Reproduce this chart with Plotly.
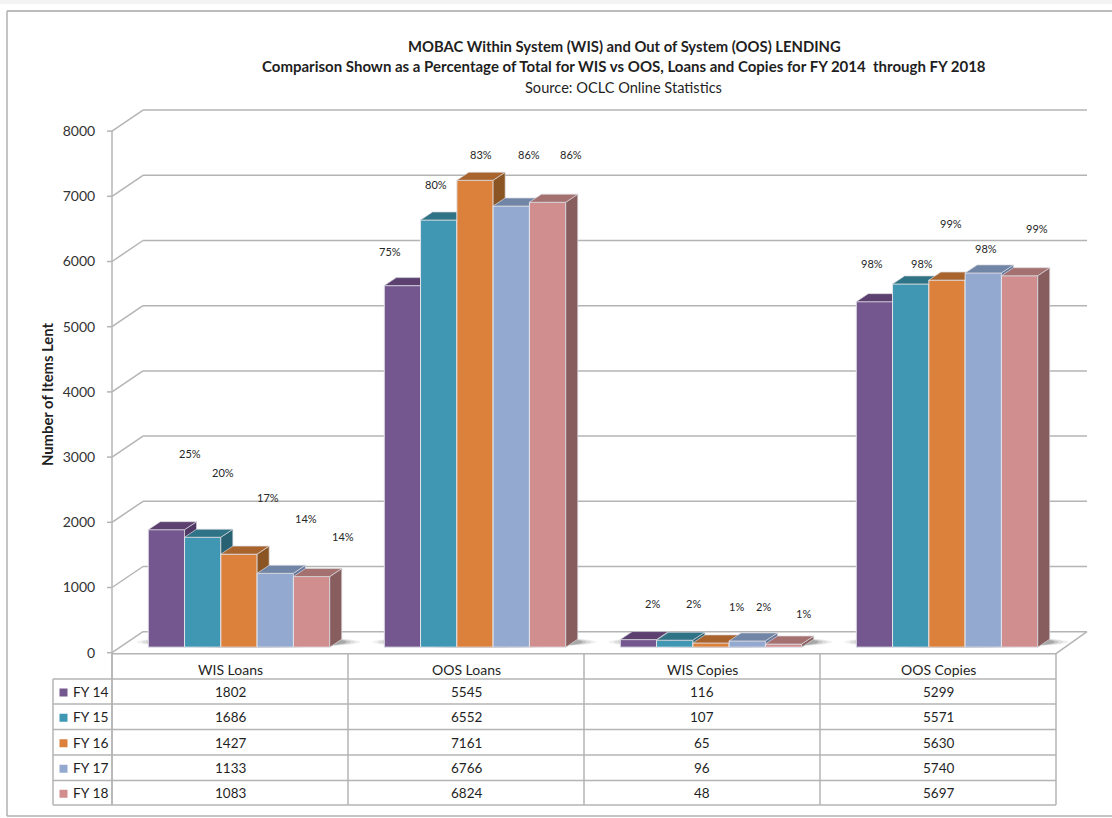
import plotly.graph_objects as go

# ---- data ----
categories = ["WIS Loans", "OOS Loans", "WIS Copies", "OOS Copies"]
series_names = ["FY 14", "FY 15", "FY 16", "FY 17", "FY 18"]
fy14 = [1802, 5545, 116, 5299]
fy15 = [1686, 6552, 107, 5571]
fy16 = [1427, 7161, 65, 5630]
fy17 = [1133, 6766, 96, 5740]
fy18 = [1083, 6824, 48, 5697]
series_values = [fy14, fy15, fy16, fy17, fy18]
pct14 = ["25%", "75%", "2%", "98%"]
pct15 = ["20%", "80%", "2%", "98%"]
pct16 = ["17%", "83%", "1%", "99%"]
pct17 = ["14%", "86%", "2%", "98%"]
pct18 = ["14%", "86%", "1%", "99%"]
series_pct = [pct14, pct15, pct16, pct17, pct18]
y_ticks = [0, 1000, 2000, 3000, 4000, 5000, 6000, 7000, 8000]

# ---- styles and placement ----
front = ["#75578F", "#3F97B3", "#DB813B", "#94A9CF", "#D08E8E"]
top_c = ["#5B4070", "#2F7386", "#A8642C", "#7185A6", "#A57070"]
side_c = ["#4F3863", "#276172", "#8A5522", "#64769A", "#875D5D"]
pct_px14 = [(190, 454), (390, 251), (652, 603), (872, 263)]
pct_px15 = [(223, 472), (436, 185), (693, 603), (922, 264)]
pct_px16 = [(268, 497), (481, 155), (736, 606), (951, 224)]
pct_px17 = [(306, 518), (529, 155), (764, 606), (986, 248)]
pct_px18 = [(343, 536), (571, 155), (803, 613), (1037, 228)]
pct_px = [pct_px14, pct_px15, pct_px16, pct_px17, pct_px18]

W, H = 1112, 818
FONT = "Lato"
TXT = "#1f1f1f"
GRID = "#b4b4b4"
Y0_PX = 652.7       # pixel row of value 0 on the front plane
PX_PER_UNIT = 0.0652
CAT_PX = 236.0
CAT0_PX = 229.5     # pixel column of the centre of the first category
BAR_PX = 36.3
DX_PX, DY_PX = 12.0, 8.0
BASE = 85           # the columns stand slightly behind the front edge of the floor
WALL_DX, WALL_DY = 31.0, 21.0

yrange = [-(H - Y0_PX) / PX_PER_UNIT, Y0_PX / PX_PER_UNIT]
xrange_ = [-CAT0_PX / CAT_PX, (W - CAT0_PX) / CAT_PX]
bw = BAR_PX / CAT_PX
dx = DX_PX / CAT_PX
dy = DY_PX / PX_PER_UNIT
group_shift = 9.5 / CAT_PX


def fx(p):
    return p / W


def fy(p):
    return 1 - p / H


def val_px(v):
    return Y0_PX - v * PX_PER_UNIT


fig = go.Figure()

for s, vals in enumerate(series_values):
    suffix = "" if s == 0 else str(s + 1)
    xa, ya = "x" + suffix, "y" + suffix
    centers = [c + group_shift + (s - 2) * bw for c in range(len(categories))]
    sx, sy, tx, ty = [], [], [], []
    for c, v in zip(centers, vals):
        xl, xr = c - bw / 2, c + bw / 2
        t = BASE + v
        sx += [xr, xr + dx, xr + dx, xr, xr, None]
        sy += [BASE, BASE + dy, t + dy, t, BASE, None]
        tx += [xl, xl + dx, xr + dx, xr, xl, None]
        ty += [t, t + dy, t + dy, t, t, None]
    fig.add_trace(go.Bar(x=centers, y=vals, base=BASE, width=bw, name=series_names[s],
                         marker=dict(color=front[s], line=dict(color="#E4E4EA", width=1)),
                         xaxis=xa, yaxis=ya, showlegend=False))
    for px_, py_, col in ((sx, sy, side_c[s]), (tx, ty, top_c[s])):
        fig.add_trace(go.Scatter(x=px_, y=py_, mode="lines", fill="toself", fillcolor=col,
                                 line=dict(color="#D8D8DE", width=0.7), hoverinfo="skip",
                                 xaxis=xa, yaxis=ya, showlegend=False))

shapes = []


def line(x0, y0, x1, y1, color=GRID, width=1.5):
    shapes.append(dict(type="line", xref="paper", yref="paper", x0=fx(x0), y0=fy(y0),
                       x1=fx(x1), y1=fy(y1), line=dict(color=color, width=width), layer="below"))


# outer frame
shapes.append(dict(type="rect", xref="paper", yref="paper", x0=0, x1=1, y0=fy(4), y1=1,
                   fillcolor="#F3F3F3", line=dict(width=0), layer="below"))
line(7, 11, W, 11, "#A6A6A6", 1.5)
line(7, 11, 7, 816, "#B0B0B0", 1.5)
line(7, 816, W, 816, "#B0B0B0", 1.5)

# walls, side wall and floor
LEFT, RIGHT = 112.0, 1056.0
for v in y_ticks:
    yp = val_px(v)
    line(LEFT - 5, yp, LEFT, yp)
    line(LEFT, yp, LEFT + WALL_DX, yp - WALL_DY)
    line(LEFT + WALL_DX, yp - WALL_DY, RIGHT + WALL_DX, yp - WALL_DY)
line(LEFT, val_px(8000), LEFT, 805)
line(LEFT, Y0_PX + 1, RIGHT, Y0_PX + 1)
line(RIGHT, Y0_PX + 1, RIGHT + WALL_DX, Y0_PX - WALL_DY)

# soft shadows on the floor
for c in range(len(categories)):
    cx = CAT0_PX + c * CAT_PX + 19
    for half, alpha in ((112, 0.07), (107, 0.10), (102, 0.15), (98, 0.22)):
        shapes.append(dict(type="circle", xref="paper", yref="paper", layer="below",
                           x0=fx(cx - half), x1=fx(cx + half), y0=fy(648), y1=fy(636),
                           fillcolor="rgba(60,60,60,%.2f)" % alpha, line=dict(width=0)))

# data table grid
row_lines = [679, 704, 729.5, 755, 780.5, 805]
col_lines = [LEFT + i * CAT_PX for i in range(len(categories) + 1)]
for r in row_lines:
    line(53, r, RIGHT, r)
line(53, row_lines[0], 53, row_lines[-1])
for cl in col_lines:
    line(cl, Y0_PX + 1, cl, row_lines[-1])

ann = []


def text(x, y, s, size=13.5, bold=False, anchor="center", angle=0, color=TXT):
    ann.append(dict(xref="paper", yref="paper", x=fx(x), y=fy(y), text="<b>%s</b>" % s if bold else s,
                    showarrow=False, xanchor=anchor, yanchor="middle", textangle=angle,
                    font=dict(family=FONT, size=size, color=color)))


text(624, 46, "MOBAC Within System (WIS) and Out of System (OOS) LENDING", 14.8, True)
text(624, 66, "Comparison Shown as a Percentage of Total for WIS vs OOS, Loans and Copies for FY 2014  through FY 2018", 15, True)
text(623, 87, "Source: OCLC Online Statistics", 14.6)
text(47, 395, "Number of Items Lent", 14.8, True, angle=-90)

for i, cat in enumerate(categories):
    cx = (col_lines[i] + col_lines[i + 1]) / 2
    text(cx, 669, cat, 14)
for s, name in enumerate(series_names):
    yc = (row_lines[s] + row_lines[s + 1]) / 2
    shapes.append(dict(type="rect", xref="paper", yref="paper", layer="below",
                       x0=fx(59.5), x1=fx(67.5), y0=fy(yc - 3), y1=fy(yc + 5),
                       fillcolor=front[s], line=dict(width=0)))
    text(71, yc, name, 13.8, anchor="left")
    for i, v in enumerate(series_values[s]):
        cx = (col_lines[i] + col_lines[i + 1]) / 2
        text(cx, yc + 0.5, str(v), 13.5)
    for i, lab in enumerate(series_pct[s]):
        text(pct_px[s][i][0], pct_px[s][i][1], lab, 11, color="#262626")

layout = dict(
    width=W, height=H, margin=dict(l=0, r=0, t=0, b=0), autosize=False,
    paper_bgcolor="white", plot_bgcolor="rgba(0,0,0,0)", barmode="overlay", showlegend=False,
    shapes=shapes, annotations=ann,
    xaxis=dict(domain=[0, 1], range=xrange_, visible=False, fixedrange=True),
    yaxis=dict(domain=[0, 1], range=yrange, tickvals=y_ticks, showgrid=False, zeroline=False,
               showline=False, anchor="free", position=LEFT / W, ticks="outside", ticklen=14,
               tickcolor="rgba(0,0,0,0)", tickfont=dict(family=FONT, size=14, color="#333333"),
               fixedrange=True),
)
for s in range(1, len(series_values)):
    n = str(s + 1)
    layout["xaxis" + n] = dict(domain=[0, 1], range=xrange_, visible=False, overlaying="x", fixedrange=True)
    layout["yaxis" + n] = dict(domain=[0, 1], range=yrange, visible=False, overlaying="y", fixedrange=True)
fig.update_layout(**layout)

fig.write_html("out.html", config=dict(displayModeBar=False),
               post_script="document.body.style.margin='0';document.body.style.overflow='hidden';")
